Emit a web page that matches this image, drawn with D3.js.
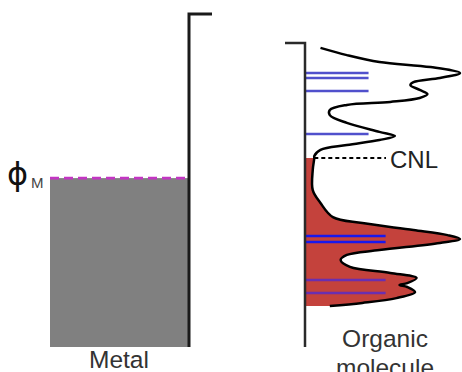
<!DOCTYPE html>
<html><head><meta charset="utf-8">
<script src="https://cdn.jsdelivr.net/npm/d3@7"></script>
<style>html,body{margin:0;padding:0;background:#fff;}svg{display:block;}</style>
</head><body>
<script>
// ---- data (energy in eV relative to CNL, density normalised) ----
const energyRange = [-6.3, 4.8];
const metalFermi = -0.67;
const metalTop = 4.8;
const organicTop = 3.83;
const cnl = 0;
const emptyDOS = [ // [energy, density]
  [3.67,0.10],[3.43,0.27],[3.20,0.48],[3.03,0.81],[2.83,1.00],[2.67,0.87],[2.53,0.70],
  [2.43,0.68],[2.27,0.74],[2.13,0.79],[2.00,0.74],[1.87,0.55],[1.77,0.27],[1.60,0.16],
  [1.43,0.16],[1.17,0.27],[0.87,0.48],[0.73,0.58],[0.60,0.48],[0.43,0.27],[0.27,0.10],
  [0.07,0.06],[0.00,0.06]
];
const filledDOS = [
  [0.00,0.06],[-0.40,0.05],[-1.07,0.05],[-1.50,0.10],[-1.97,0.18],[-2.17,0.37],[-2.40,0.70],
  [-2.57,0.92],[-2.70,1.00],[-2.83,0.87],[-3.07,0.48],[-3.23,0.27],[-3.40,0.23],[-3.63,0.29],
  [-3.83,0.55],[-4.00,0.72],[-4.17,0.66],[-4.23,0.61],[-4.30,0.66],[-4.47,0.71],[-4.67,0.59],
  [-4.83,0.37],[-4.93,0.16]
];
const emptyLevels = [2.83, 2.67, 2.23, 0.80];
const filledLevels = [-2.60, -2.80, -4.07, -4.50];
const emptyLevelLen = 0.41;
const filledLevelLen = 0.52;
const labels = {metal: "Metal", organic: ["Organic", "molecule"], cnl: "CNL", phi: "ϕ", phiSub: "M"};

// ---- drawing ----
const W = 462, H = 372;
const font = "'Liberation Sans', Arial, sans-serif";
const svg = d3.select("body").append("svg").attr("width", W).attr("height", H);

const y = d3.scaleLinear().domain(energyRange).range([347, 14]);
const x = d3.scaleLinear().domain([0, 1]).range([305, 460]);
const metalLeft = 50, metalRight = 189;

// metal filled band
svg.append("rect")
  .attr("x", metalLeft).attr("y", y(metalFermi))
  .attr("width", metalRight - metalLeft).attr("height", y(energyRange[0]) - y(metalFermi))
  .attr("fill", "#808080");
// fermi level dashed
svg.append("line")
  .attr("x1", metalLeft).attr("x2", metalRight)
  .attr("y1", y(metalFermi)).attr("y2", y(metalFermi))
  .attr("stroke", "#c236c2").attr("stroke-width", 2.6).attr("stroke-dasharray", "9,5");
// metal axis
svg.append("path")
  .attr("d", d3.line()([[metalRight, y(energyRange[0])], [metalRight, y(metalTop)], [metalRight + 23, y(metalTop)]]))
  .attr("fill", "none").attr("stroke", "#1a1a1a").attr("stroke-width", 3);

// organic filled area
const area = d3.area().x0(x(0)).x1(d => x(d[1])).y(d => y(d[0])).curve(d3.curveCatmullRom);
svg.append("path").attr("d", area(filledDOS)).attr("fill", "#c4423c");

// levels
const lvl = svg.append("g");
emptyLevels.forEach(e => lvl.append("line")
  .attr("x1", x(0)).attr("x2", x(emptyLevelLen)).attr("y1", y(e)).attr("y2", y(e))
  .attr("stroke", "#5050cc").attr("stroke-width", 2.5));
filledLevels.forEach((e, i) => lvl.append("line")
  .attr("x1", x(0)).attr("x2", x(filledLevelLen)).attr("y1", y(e)).attr("y2", y(e))
  .attr("stroke", i < 2 ? "#1818ee" : "#6a2fb0").attr("stroke-width", 2.5));

// DOS curve
const line = d3.line().x(d => x(d[1])).y(d => y(d[0])).curve(d3.curveCatmullRom);
svg.append("path").attr("d", line(emptyDOS.concat(filledDOS.slice(1))))
  .attr("fill", "none").attr("stroke", "#000").attr("stroke-width", 2.5);

// organic axis
svg.append("path")
  .attr("d", d3.line()([[x(0), y(energyRange[0])], [x(0), y(organicTop)], [x(0) - 20, y(organicTop)]]))
  .attr("fill", "none").attr("stroke", "#2a2a2a").attr("stroke-width", 2.5);

// CNL
svg.append("line")
  .attr("x1", x(0.06)).attr("x2", 386).attr("y1", y(cnl)).attr("y2", y(cnl))
  .attr("stroke", "#000").attr("stroke-width", 2).attr("stroke-dasharray", "4,3");
svg.append("text").attr("x", 390).attr("y", y(cnl) + 10)
  .attr("font-family", font).attr("font-size", 24).attr("fill", "#222").text(labels.cnl);

// phi_M
svg.append("text").attr("x", 7).attr("y", y(metalFermi) + 7)
  .attr("font-family", "'DejaVu Sans', sans-serif").attr("font-size", 32).attr("fill", "#111").text(labels.phi);
svg.append("text").attr("x", 31).attr("y", y(metalFermi) + 10)
  .attr("font-family", font).attr("font-size", 15).attr("fill", "#444").text(labels.phiSub);

// bottom labels
svg.append("text").attr("x", 119).attr("y", 368).attr("text-anchor", "middle")
  .attr("font-family", font).attr("font-size", 24.5).attr("fill", "#333").text(labels.metal);
svg.append("text").attr("x", 385).attr("y", 347).attr("text-anchor", "middle")
  .attr("font-family", font).attr("font-size", 24.5).attr("fill", "#333").text(labels.organic[0]);
svg.append("text").attr("x", 385).attr("y", 376).attr("text-anchor", "middle")
  .attr("font-family", font).attr("font-size", 24.5).attr("fill", "#333").text(labels.organic[1]);
</script>
</body></html>
